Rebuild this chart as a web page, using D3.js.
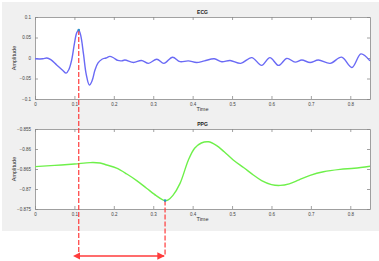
<!DOCTYPE html>
<html>
<head>
<meta charset="utf-8">
<script src="https://cdn.jsdelivr.net/npm/d3@7"></script>
<style>
  body { margin: 0; background: #fff; }
  svg { display: block; font-family: Arial, "Liberation Sans", sans-serif; }
</style>
</head>
<body>
<div id="chart"></div>
<script>
// ECG trace (time s, amplitude)
var ecgTime = [0, 0.02, 0.03, 0.04, 0.055, 0.07, 0.079, 0.086, 0.093, 0.1, 0.106, 0.111, 0.116, 0.123, 0.13, 0.138, 0.145, 0.152, 0.16, 0.17, 0.18, 0.19, 0.2, 0.21, 0.22, 0.228, 0.25, 0.27, 0.288, 0.309, 0.327, 0.349, 0.368, 0.389, 0.41, 0.43, 0.455, 0.474, 0.495, 0.522, 0.55, 0.575, 0.596, 0.618, 0.639, 0.66, 0.677, 0.698, 0.719, 0.749, 0.778, 0.804, 0.827, 0.85];
var ecgValue = [-0.002, -0.002, 0.0, -0.004, -0.017, -0.03, -0.037, -0.028, -0.005, 0.035, 0.062, 0.068, 0.055, 0.01, -0.04, -0.066, -0.055, -0.03, -0.012, -0.003, 0.0, 0.004, 0.0, -0.006, -0.007, -0.005, -0.011, -0.006, -0.013, -0.003, -0.013, 0.002, -0.009, -0.007, -0.011, -0.007, -0.002, -0.009, -0.006, -0.013, 0.001, -0.018, 0.001, -0.018, -0.001, -0.01, -0.005, -0.011, -0.005, -0.013, 0.002, -0.023, 0.01, -0.007];

// PPG trace
var ppgTime = [0, 0.05, 0.1, 0.14, 0.165, 0.182, 0.207, 0.233, 0.258, 0.283, 0.308, 0.322, 0.33, 0.338, 0.35, 0.368, 0.389, 0.405, 0.422, 0.44, 0.46, 0.48, 0.503, 0.53, 0.554, 0.575, 0.6, 0.622, 0.645, 0.67, 0.698, 0.732, 0.774, 0.81, 0.85];
var ppgValue = [-0.8644, -0.8641, -0.86375, -0.8634, -0.8635, -0.864, -0.8648, -0.86625, -0.8679, -0.8698, -0.8717, -0.8726, -0.8729, -0.8727, -0.8716, -0.8686, -0.8628, -0.8598, -0.8585, -0.8582, -0.8591, -0.8607, -0.86275, -0.8647, -0.8665, -0.8679, -0.8689, -0.8691, -0.8687, -0.8677, -0.8666, -0.8657, -0.8651, -0.8648, -0.8643];

// markers: R peak and PPG foot
var rPeak = { t: 0.111, v: 0.068 };
var ppgFoot = { t: 0.33, v: -0.8729 };

var xTicks = [0, 0.1, 0.2, 0.3, 0.4, 0.5, 0.6, 0.7, 0.8];
var ecgTicks = [-0.1, -0.05, 0, 0.05, 0.1];
var ppgTicks = [-0.875, -0.87, -0.865, -0.86, -0.855];

var width = 379, height = 261;
var plotLeft = 35, plotRight = 370;
var ecgTop = 17, ecgBottom = 99;
var ppgTop = 129, ppgBottom = 209;
var arrowY = 256;
var red = '#ff3b3b';

var svg = d3.select('#chart').append('svg')
  .attr('width', width)
  .attr('height', height);

var defs = svg.append('defs');
['start', 'end'].forEach(function(k) {
  defs.append('marker')
    .attr('id', 'arr-' + k)
    .attr('viewBox', '0 0 10 10')
    .attr('refX', k == 'end' ? 9 : 1)
    .attr('refY', 5)
    .attr('markerWidth', 5)
    .attr('markerHeight', 5)
    .attr('orient', 'auto-start-reverse')
    .append('path')
    .attr('d', 'M0,0 L10,5 L0,10 z')
    .attr('fill', red);
});

// figure background
svg.append('rect')
  .attr('x', 2).attr('y', 2)
  .attr('width', width - 2).attr('height', 229)
  .attr('fill', '#f0f0f0');

var x = d3.scaleLinear().domain([0, 0.85]).range([plotLeft, plotRight]);
var yEcg = d3.scaleLinear().domain([-0.1, 0.1]).range([ecgBottom, ecgTop]);
var yPpg = d3.scaleLinear().domain([-0.875, -0.855]).range([ppgBottom, ppgTop]);

function drawPanel(y, top, bottom, yTicks, title, times, values, color) {
  var g = svg.append('g');
  g.append('rect')
    .attr('x', plotLeft).attr('y', top)
    .attr('width', plotRight - plotLeft).attr('height', bottom - top)
    .attr('fill', '#fff');

  var fmt = function(d) { return d3.format('')(+d.toFixed(3)); };

  var xb = g.append('g')
    .attr('transform', 'translate(0,' + bottom + ')')
    .call(d3.axisBottom(x).tickValues(xTicks).tickSizeInner(-3).tickSizeOuter(0).tickPadding(4).tickFormat(fmt));
  var xt = g.append('g')
    .attr('transform', 'translate(0,' + top + ')')
    .call(d3.axisTop(x).tickValues(xTicks).tickSizeInner(-3).tickSizeOuter(0).tickFormat(''));
  var yl = g.append('g')
    .attr('transform', 'translate(' + plotLeft + ',0)')
    .call(d3.axisLeft(y).tickValues(yTicks).tickSizeInner(-3).tickSizeOuter(0).tickPadding(4).tickFormat(fmt));
  var yr = g.append('g')
    .attr('transform', 'translate(' + plotRight + ',0)')
    .call(d3.axisRight(y).tickValues(yTicks).tickSizeInner(-3).tickSizeOuter(0).tickFormat(''));

  [xb, xt, yl, yr].forEach(function(a) {
    a.selectAll('path').attr('stroke', '#8a8a8a').attr('stroke-width', 0.8);
    a.selectAll('line').attr('stroke', '#8a8a8a').attr('stroke-width', 0.8);
    a.selectAll('text').attr('fill', '#444').style('font-size', '4.5px');
  });

  var line = d3.line()
    .x(function(d, i) { return x(times[i]); })
    .y(function(d) { return y(d); })
    .curve(d3.curveCatmullRom);

  g.append('path')
    .datum(values)
    .attr('d', line)
    .attr('fill', 'none')
    .attr('stroke', color)
    .attr('stroke-width', 1.4);

  g.append('text')
    .attr('x', (plotLeft + plotRight) / 2)
    .attr('y', top - 3)
    .attr('text-anchor', 'middle')
    .style('font-size', '5px')
    .style('font-weight', 'bold')
    .attr('fill', '#222')
    .text(title);

  g.append('text')
    .attr('x', (plotLeft + plotRight) / 2)
    .attr('y', bottom + 12)
    .attr('text-anchor', 'middle')
    .style('font-size', '5.5px')
    .attr('fill', '#333')
    .text('Time');

  g.append('text')
    .attr('transform', 'rotate(-90)')
    .attr('x', -(top + bottom) / 2)
    .attr('y', 16)
    .attr('text-anchor', 'middle')
    .style('font-size', '5.5px')
    .attr('fill', '#333')
    .text('Amplitude');

  return g;
}

drawPanel(yEcg, ecgTop, ecgBottom, ecgTicks, 'ECG', ecgTime, ecgValue, '#6a6af5');
drawPanel(yPpg, ppgTop, ppgBottom, ppgTicks, 'PPG', ppgTime, ppgValue, '#6ef04a');

// dashed guides from the two fiducial points
svg.append('line')
  .attr('x1', x(rPeak.t)).attr('x2', x(rPeak.t))
  .attr('y1', yEcg(rPeak.v)).attr('y2', arrowY)
  .attr('stroke', red).attr('stroke-width', 1.2)
  .attr('stroke-dasharray', '5,2');

svg.append('line')
  .attr('x1', x(ppgFoot.t)).attr('x2', x(ppgFoot.t))
  .attr('y1', yPpg(ppgFoot.v)).attr('y2', arrowY)
  .attr('stroke', red).attr('stroke-width', 1.2)
  .attr('stroke-dasharray', '5,2');

svg.append('line')
  .attr('x1', x(rPeak.t) + 1).attr('x2', x(ppgFoot.t) - 1)
  .attr('y1', arrowY).attr('y2', arrowY)
  .attr('stroke', red).attr('stroke-width', 1.5)
  .attr('marker-start', 'url(#arr-start)')
  .attr('marker-end', 'url(#arr-end)');

// markers
svg.append('circle')
  .attr('cx', x(rPeak.t)).attr('cy', yEcg(rPeak.v))
  .attr('r', 1.3).attr('fill', '#2f8fc8');
svg.append('circle')
  .attr('cx', x(ppgFoot.t)).attr('cy', yPpg(ppgFoot.v))
  .attr('r', 1.3).attr('fill', '#2f8fc8');
</script>
</body>
</html>
